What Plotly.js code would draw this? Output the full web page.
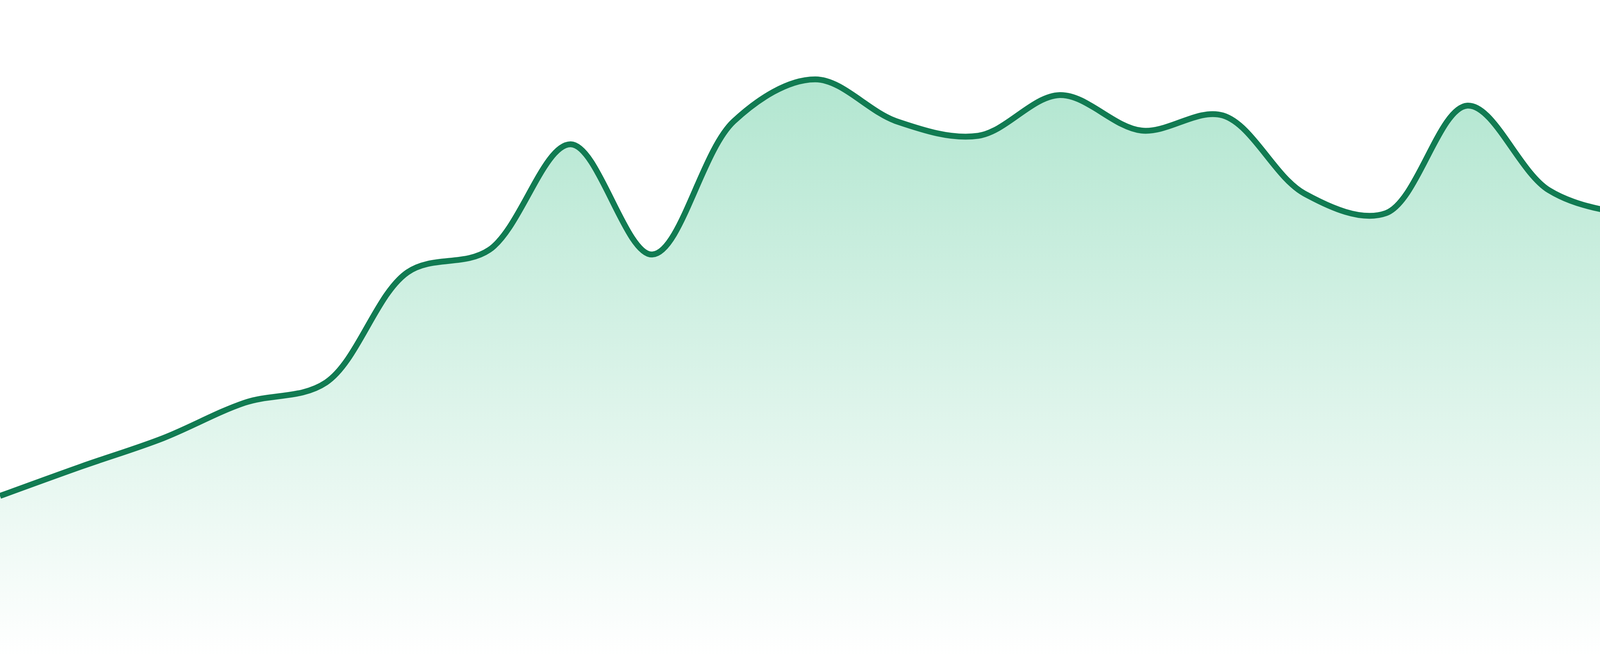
<!DOCTYPE html>
<html>
<head>
<meta charset="utf-8">
<script src="https://cdn.plot.ly/plotly-3.0.1.min.js"></script>
<style>
   html, body { margin: 0; padding: 0; background: #ffffff; }
   #canvas { width: 4800px; height: 1680px; }
</style>
</head>
<body>
<div id="canvas"></div>
<script>

// sample positions (evenly spaced) and values, 0..100 of plot height
const samples = [0, 1, 2, 3, 4, 5, 6, 7, 8, 9, 10, 11, 12, 13, 14, 15, 16, 17, 18, 19, 20, 21, 22, 23];
const values = [24.4, 28.9, 33.2, 38.6, 41.7, 58.5, 61.9, 78.0, 61.2, 81.5, 87.9, 81.5,
   79.3, 85.5, 80.1, 82.4, 70.5, 67.5, 83.9, 71.0, 67.2, 65.9, 77.1, 68.8];

const lineColor = '#117b52';
const fillTop = 'rgb(178,230,208)';
const fillBottom = 'rgb(255,255,255)';

function onLoad() {

   const traces = [{
      x: samples,
      y: values,
      mode: 'lines',
      line: { color: lineColor, width: 15, shape: 'spline', smoothing: 1 },
      fill: 'tozeroy',
      fillgradient: {
         type: 'vertical',
         start: 0,
         stop: Math.max(...values),
         colorscale: [[0, fillBottom], [1, fillTop]]
      },
      hoverinfo: 'skip'
   }];

   const layout = {
      width: 4800,
      height: 1680,
      margin: { t: 0, b: 0, l: 0, r: 0 },
      paper_bgcolor: '#ffffff',
      plot_bgcolor: '#ffffff',
      showlegend: false,
      xaxis: { range: [0, samples.length - 1], visible: false, fixedrange: true },
      yaxis: { range: [0, 100], visible: false, fixedrange: true },
   }
   const config = { staticPlot: true, displayModeBar: false }
   Plotly.newPlot('canvas', traces, layout, config);
}

onLoad();
</script>
</body>
</html>
